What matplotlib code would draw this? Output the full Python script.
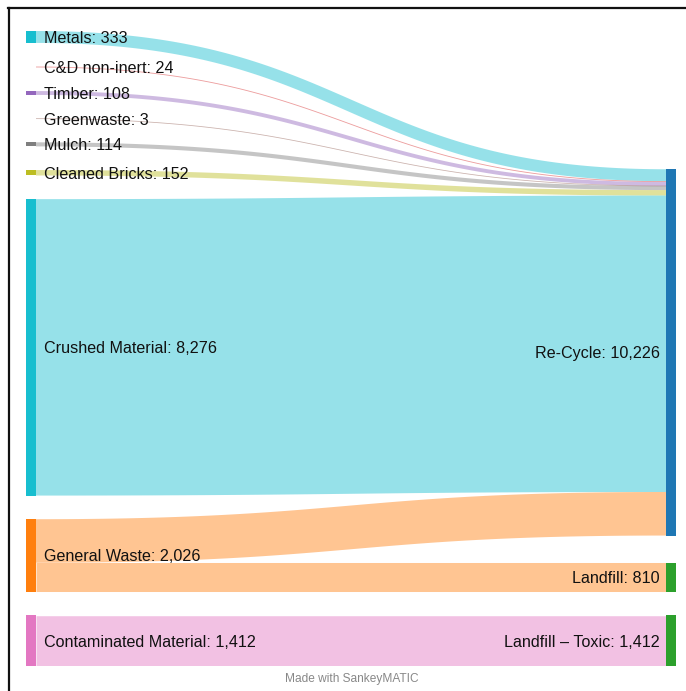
import numpy as np
import matplotlib
matplotlib.use("Agg")
import matplotlib.pyplot as plt
from matplotlib.lines import Line2D

plt.rcParams['font.family'] = ['Liberation Sans', 'DejaVu Sans']

# source nodes (left column), top to bottom
sources = ["Metals", "C&D non-inert", "Timber", "Greenwaste", "Mulch",
           "Cleaned Bricks", "Crushed Material", "General Waste",
           "Contaminated Material"]
source_colors = ["#17becf", "#d62728", "#9467bd", "#8c564b", "#7f7f7f",
                 "#bcbd22", "#17becf", "#ff7f0e", "#e377c2"]

# target nodes (right column), top to bottom
targets = ["Re-Cycle", "Landfill", "Landfill \u2013 Toxic"]
target_colors = ["#1f77b4", "#2ca02c", "#2ca02c"]

# flows: (source, target, amount)
flow_src = ["Metals", "C&D non-inert", "Timber", "Greenwaste", "Mulch",
            "Cleaned Bricks", "Crushed Material", "General Waste",
            "General Waste", "Contaminated Material"]
flow_dst = ["Re-Cycle", "Re-Cycle", "Re-Cycle", "Re-Cycle", "Re-Cycle",
            "Re-Cycle", "Re-Cycle", "Re-Cycle", "Landfill",
            "Landfill \u2013 Toxic"]
flow_val = [333, 24, 108, 3, 114, 152, 8276, 1216, 810, 1412]

W, H, DPI = 686, 691, 100
gap = 660          # gap between left nodes, in value units
gap_right = [760, 660]  # gaps between right nodes
node_w = 10 / 650.0

def node_total(name, col):
    return sum(v for s, t, v in zip(flow_src, flow_dst, flow_val)
               if (s if col == 0 else t) == name)

src_tot = [node_total(n, 0) for n in sources]
dst_tot = [node_total(n, 1) for n in targets]
span = sum(src_tot) + gap * (len(sources) - 1)

# left column stacked from top
src_y = {}
y = 0
for n, v in zip(sources, src_tot):
    src_y[n] = y
    y += v + gap

# right column stacked from bottom
dst_y = {}
y = span
for i, (n, v) in enumerate(reversed(list(zip(targets, dst_tot)))):
    y -= v
    dst_y[n] = y
    if i < len(gap_right):
        y -= gap_right[::-1][i]

fig = plt.figure(figsize=(W / DPI, H / DPI), dpi=DPI)
top_px, bot_px = 31, 666
ax = fig.add_axes([26 / W, 1 - bot_px / H, 650 / W, (bot_px - top_px) / H])
ax.set_xlim(0, 1)
ax.set_ylim(span, 0)
ax.axis("off")

px_per_unit = (bot_px - top_px) / span
txt_dy = 1.5 / px_per_unit

# flows
src_off = dict(src_y)
dst_off = dict(dst_y)
t = np.linspace(0, 1, 120)
x0, x1 = node_w, 1 - node_w
xm = (x0 + x1) / 2
for s, d, v in zip(flow_src, flow_dst, flow_val):
    ys = src_off[s] + v / 2
    yd = dst_off[d] + v / 2
    src_off[s] += v
    dst_off[d] += v
    bx = (1 - t) ** 3 * x0 + 3 * (1 - t) ** 2 * t * xm + 3 * (1 - t) * t ** 2 * xm + t ** 3 * x1
    by = (1 - t) ** 3 * ys + 3 * (1 - t) ** 2 * t * ys + 3 * (1 - t) * t ** 2 * yd + t ** 3 * yd
    lw = max(v * px_per_unit, 0.8) * 72 / DPI
    ax.plot(bx, by, color=source_colors[sources.index(s)], alpha=0.45,
            lw=lw, solid_capstyle="butt", zorder=1)

# nodes
for n, v, c in zip(sources, src_tot, source_colors):
    ax.add_patch(plt.Rectangle((0, src_y[n]), node_w, max(v, 0.8 / px_per_unit),
                               color=c, zorder=2, lw=0))
    ax.text(node_w + 8 / 650, src_y[n] + v / 2 + txt_dy, f"{n}: {v:,}", ha="left",
            va="center", fontsize=11.6, color="#111111", zorder=3)
for n, v, c in zip(targets, dst_tot, target_colors):
    ax.add_patch(plt.Rectangle((1 - node_w, dst_y[n]), node_w, v,
                               color=c, zorder=2, lw=0))
    ax.text(1 - node_w - 6 / 650, dst_y[n] + v / 2 + txt_dy, f"{n}: {v:,}", ha="right",
            va="center", fontsize=11.6, color="#111111", zorder=3)

fig.text(352 / W, 1 - 679 / H, "Made with SankeyMATIC", ha="center",
         va="center", fontsize=8.6, color="#888888")

# screenshot frame (top and left edges)
fig.add_artist(Line2D([8 / W, 1], [1 - 8 / H, 1 - 8 / H], color="#111111", lw=1.6))
fig.add_artist(Line2D([9 / W, 9 / W], [0, 1 - 8 / H], color="#111111", lw=1.6))

fig.savefig("out.png", dpi=DPI)
